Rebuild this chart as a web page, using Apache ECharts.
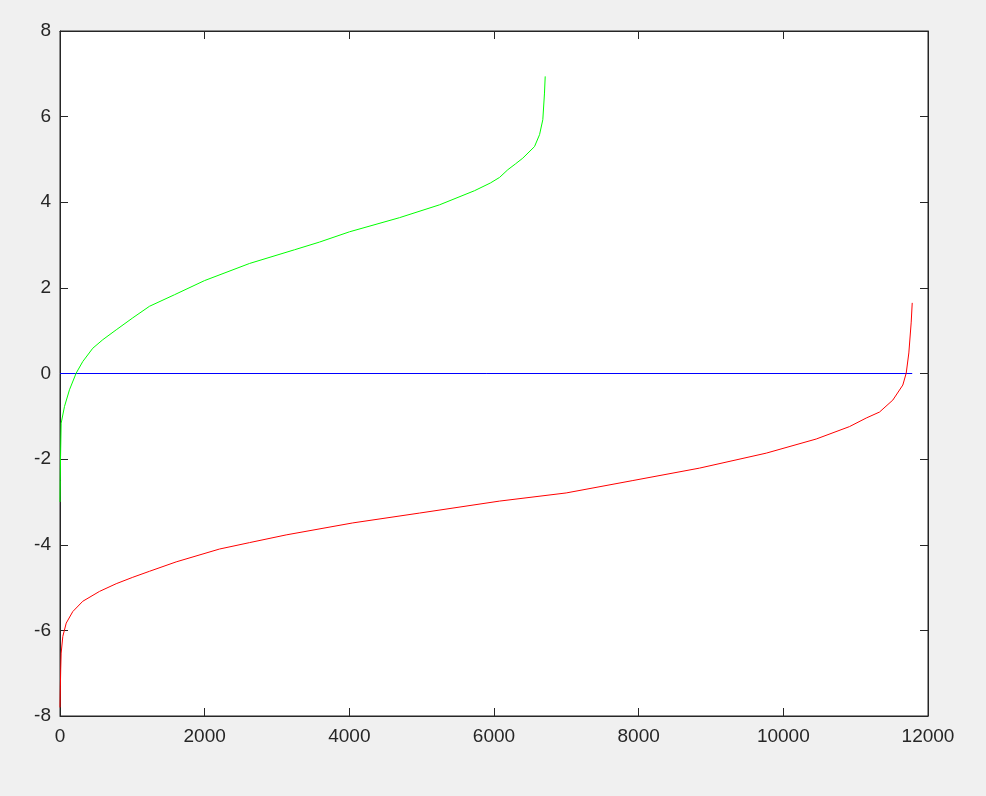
<!DOCTYPE html>
<html>
<head>
<meta charset="utf-8">
<script src="https://cdn.jsdelivr.net/npm/echarts@6/dist/echarts.min.js"></script>
<style>
html,body{margin:0;padding:0;background:#f0f0f0;}
#chart{width:986px;height:796px;}
</style>
</head>
<body>
<div id="chart"></div>
<script>
// Green series (index, value)
const greenX = [0, 3, 7, 16, 62, 131, 224, 315, 453, 592, 777, 1006, 1237, 1583, 1998, 2620, 3242, 3588, 4003, 4694, 5247, 5731, 5950, 6077, 6191, 6300, 6398, 6560, 6630, 6675, 6698, 6708];
const greenY = [-3.0, -2.5, -2.0, -1.16, -0.77, -0.38, 0.01, 0.28, 0.59, 0.79, 1.02, 1.30, 1.57, 1.84, 2.17, 2.57, 2.89, 3.07, 3.31, 3.64, 3.94, 4.27, 4.45, 4.58, 4.76, 4.90, 5.03, 5.30, 5.58, 5.93, 6.55, 6.94];
// Red series (index, value)
const redX = [0, 5, 10, 16, 39, 86, 177, 315, 546, 777, 1006, 1237, 1606, 2205, 2620, 3127, 4048, 4970, 6077, 6998, 7920, 8841, 9764, 10455, 10915, 11146, 11330, 11514, 11652, 11699, 11735, 11768, 11782];
const redY = [-7.8, -7.3, -6.9, -6.53, -6.14, -5.83, -5.56, -5.32, -5.09, -4.91, -4.76, -4.62, -4.40, -4.10, -3.95, -3.77, -3.49, -3.26, -2.98, -2.79, -2.50, -2.21, -1.86, -1.53, -1.24, -1.04, -0.90, -0.62, -0.27, 0.01, 0.48, 1.20, 1.65];
// Zero reference line
const zeroX = [0, 11782];
const zeroY = [0, 0];
const xTicks = [0, 2000, 4000, 6000, 8000, 10000, 12000];
const yTicks = [-8, -6, -4, -2, 0, 2, 4, 6, 8];

const pair = (xs, ys) => xs.map((x, i) => [x, ys[i]]);
const dark = '#262626';
const font = 'Liberation Sans, Helvetica, Arial, sans-serif';

const xBase = {
  type: 'value', min: 0, max: 12000, interval: 2000,
  axisLine: { show: true, onZero: false, lineStyle: { color: dark, width: 1 } },
  axisTick: { show: true, inside: true, length: 8, lineStyle: { color: dark } },
  splitLine: { show: false }
};
const yBase = {
  type: 'value', min: -8, max: 8, interval: 2,
  axisLine: { show: true, onZero: false, lineStyle: { color: dark, width: 1 } },
  axisTick: { show: true, inside: true, length: 8, lineStyle: { color: dark } },
  splitLine: { show: false }
};

const lineSeries = (xs, ys, color) => ({
  type: 'line', xAxisIndex: 0, yAxisIndex: 0, data: pair(xs, ys), showSymbol: false,
  smooth: false, lineStyle: { color: color, width: 1 }, silent: true
});

const chart = echarts.init(document.getElementById('chart'), null, { renderer: 'canvas' });
chart.setOption({
  backgroundColor: '#f0f0f0',
  animation: false,
  grid: { left: 60, top: 31, right: 58, bottom: 80, show: true, backgroundColor: '#ffffff', borderColor: dark, borderWidth: 1 },
  xAxis: [
    Object.assign({}, xBase, { position: 'bottom',
      axisLabel: { show: true, margin: 11, color: dark, fontSize: 19, fontFamily: font,
        formatter: v => xTicks.includes(v) ? String(v) : '' } }),
    Object.assign({}, xBase, { position: 'top', axisLabel: { show: false } })
  ],
  yAxis: [
    Object.assign({}, yBase, { position: 'left',
      axisLabel: { show: true, margin: 9, color: dark, fontSize: 19, fontFamily: font,
        formatter: v => yTicks.includes(v) ? String(v) : '' } }),
    Object.assign({}, yBase, { position: 'right', axisLabel: { show: false } })
  ],
  series: [
    { type: 'line', xAxisIndex: 0, yAxisIndex: 0, data: pair(zeroX, zeroY), showSymbol: false,
      lineStyle: { color: '#0000ff', width: 1 }, silent: true },
    lineSeries(greenX, greenY, '#00ff00'),
    lineSeries(redX, redY, '#ff0000')
  ]
});
</script>
</body>
</html>
